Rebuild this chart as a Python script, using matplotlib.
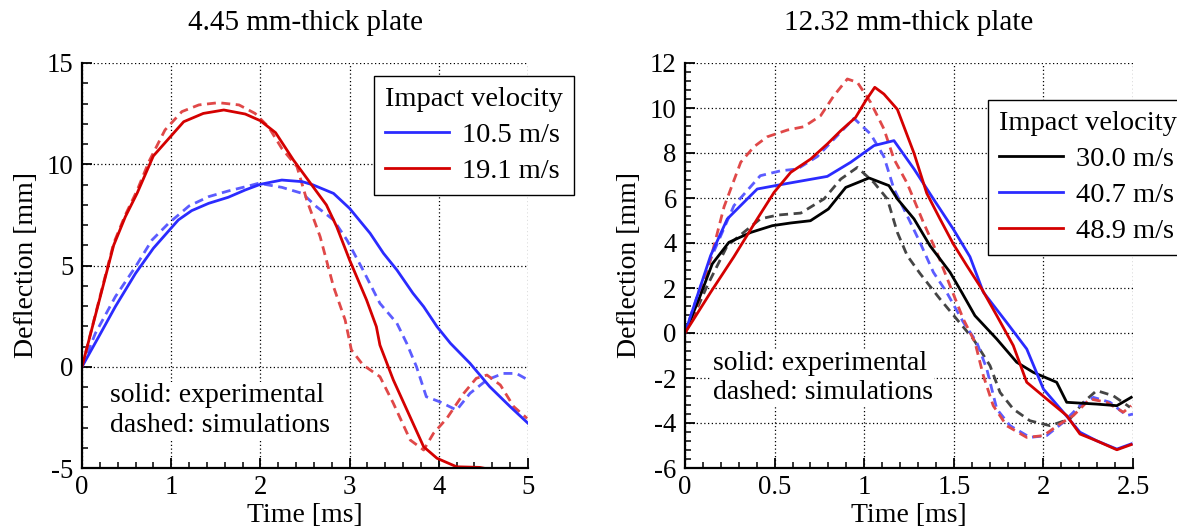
import numpy as np
import matplotlib.pyplot as plt
from matplotlib.ticker import MultipleLocator, FormatStrFormatter

plt.rcParams['font.family'] = ['Liberation Serif', 'DejaVu Serif']
plt.rcParams['axes.unicode_minus'] = False

# 4.45 mm plate
t_a_exp_lo = [0, 0.187, 0.374, 0.6, 0.8, 1.08, 1.23, 1.42, 1.64, 1.83, 2.0, 2.24, 2.47,
              2.59, 2.82, 3.0, 3.23, 3.38, 3.53, 3.71, 3.83, 3.98, 4.13, 4.35, 4.57, 4.8, 5.0]
d_a_exp_lo = [0, 1.48, 2.97, 4.61, 5.85, 7.25, 7.71, 8.07, 8.37, 8.73, 9.01, 9.22, 9.14,
              8.98, 8.56, 7.82, 6.59, 5.6, 4.78, 3.63, 2.97, 1.98, 1.16, 0.17, -0.98, -1.97, -2.79]
t_a_sim_lo = [0, 0.15, 0.374, 0.6, 0.785, 0.97, 1.2, 1.42, 1.64, 1.87, 1.98, 2.24, 2.47,
              2.63, 2.82, 2.97, 3.15, 3.34, 3.53, 3.64, 3.75, 3.86, 4.01, 4.2, 4.35, 4.54,
              4.72, 4.87, 5.0]
d_a_sim_lo = [0, 1.65, 3.46, 4.94, 6.26, 7.08, 7.94, 8.4, 8.68, 8.93, 9.06, 8.86, 8.56,
              7.9, 7.25, 6.26, 4.78, 3.13, 2.15, 1.16, 0, -1.48, -1.73, -2.14, -1.31, -0.65,
              -0.33, -0.33, -0.65]
t_a_exp_hi = [0, 0.355, 0.486, 0.617, 0.8, 1.14, 1.36, 1.59, 1.83, 2.0, 2.17, 2.37, 2.575,
              2.74, 2.855, 3.0, 3.19, 3.3, 3.34, 3.49, 3.66, 3.83, 3.98, 4.2, 4.46, 4.55]
d_a_exp_hi = [0, 6.0, 7.41, 8.56, 10.41, 12.1, 12.51, 12.68, 12.48, 12.15, 11.56, 10.21,
              8.98, 7.99, 6.92, 5.27, 3.3, 1.98, 1.07, -0.65, -2.3, -3.95, -4.52, -4.94,
              -4.97, -5.05]
t_a_sim_hi = [0, 0.355, 0.486, 0.617, 0.75, 0.93, 1.12, 1.31, 1.53, 1.76, 1.94, 2.09, 2.24,
              2.41, 2.52, 2.67, 2.82, 2.95, 3.02, 3.15, 3.34, 3.49, 3.68, 3.83, 3.94, 4.09,
              4.28, 4.42, 4.54, 4.69, 4.84, 4.99]
d_a_sim_hi = [0, 6.1, 7.5, 8.7, 10.13, 11.69, 12.6, 12.93, 13.04, 12.93, 12.51, 11.85,
              10.78, 9.88, 8.23, 6.42, 3.95, 2.31, 0.83, 0.09, -0.49, -1.8, -3.62, -4.11,
              -3.29, -2.55, -1.31, -0.57, -0.41, -0.9, -1.97, -2.55]

# 12.32 mm plate
t_b_exp_30 = [0, 0.078, 0.152, 0.245, 0.367, 0.487, 0.59, 0.7, 0.8, 0.897, 1.027, 1.138,
              1.185, 1.278, 1.367, 1.479, 1.544, 1.618, 1.74, 1.851, 1.944, 2.074, 2.13,
              2.297, 2.41, 2.49]
d_b_exp_30 = [0, 1.51, 3.07, 4.03, 4.47, 4.77, 4.89, 4.99, 5.51, 6.47, 6.89, 6.55, 5.96,
              5.07, 3.88, 2.7, 1.81, 0.77, -0.27, -1.3, -1.75, -2.19, -3.08, -3.16, -3.23,
              -2.86]
t_b_sim_30 = [0, 0.05, 0.124, 0.236, 0.42, 0.515, 0.646, 0.776, 0.869, 0.962, 1.055, 1.129,
              1.185, 1.24, 1.311, 1.423, 1.516, 1.609, 1.702, 1.758, 1.832, 1.925, 2.037,
              2.148, 2.223, 2.297, 2.39, 2.483]
d_b_sim_30 = [0, 0.77, 2.1, 3.88, 5.07, 5.24, 5.33, 5.96, 6.84, 7.36, 6.68, 5.96, 4.47,
              3.44, 2.65, 1.51, 0.62, -0.27, -1.45, -2.64, -3.38, -3.9, -4.12, -3.82, -3.08,
              -2.56, -2.79, -3.3]
t_b_exp_40 = [0, 0.143, 0.236, 0.403, 0.552, 0.794, 0.925, 1.055, 1.166, 1.278, 1.386,
              1.497, 1.59, 1.665, 1.795, 1.907, 2.0, 2.111, 2.204, 2.297, 2.41, 2.49]
d_b_exp_40 = [0, 3.44, 5.07, 6.4, 6.62, 6.96, 7.59, 8.33, 8.55, 7.29, 5.96, 4.62, 3.39,
              1.81, 0.47, -0.71, -2.49, -3.52, -4.41, -4.79, -5.16, -4.93]
t_b_sim_40 = [0, 0.069, 0.143, 0.273, 0.42, 0.534, 0.627, 0.738, 0.85, 0.943, 1.036, 1.11,
              1.166, 1.24, 1.311, 1.386, 1.46, 1.553, 1.628, 1.684, 1.74, 1.814, 1.925,
              2.018, 2.111, 2.204, 2.279, 2.372, 2.465, 2.5]
d_b_sim_40 = [0, 1.66, 3.29, 5.66, 6.99, 7.21, 7.29, 7.84, 8.77, 9.54, 8.84, 7.84, 6.4,
              5.21, 4.03, 2.7, 1.81, 0.48, -0.41, -1.6, -3.38, -4.12, -4.64, -4.56, -3.97,
              -3.23, -2.86, -3.08, -3.67, -3.6]
t_b_exp_49 = [0, 0.143, 0.273, 0.403, 0.497, 0.59, 0.701, 0.794, 0.869, 0.952, 1.008,
              1.059, 1.11, 1.185, 1.278, 1.349, 1.423, 1.497, 1.572, 1.656, 1.74, 1.832,
              1.907, 2.018, 2.13, 2.204, 2.297, 2.41, 2.49]
d_b_exp_49 = [0, 1.81, 3.39, 5.07, 6.25, 7.14, 7.73, 8.4, 8.99, 9.58, 10.32, 10.92, 10.62,
              9.94, 7.99, 6.21, 5.07, 3.96, 3.0, 1.96, 0.77, -0.56, -2.19, -2.93, -3.67,
              -4.49, -4.79, -5.19, -4.96]
t_b_sim_49 = [0, 0.069, 0.143, 0.218, 0.311, 0.385, 0.459, 0.571, 0.664, 0.757, 0.831,
              0.906, 0.962, 1.036, 1.11, 1.166, 1.24, 1.33, 1.405, 1.479, 1.553, 1.618,
              1.665, 1.72, 1.795, 1.907, 2.0, 2.093, 2.167, 2.26, 2.353, 2.446, 2.49]
d_b_sim_49 = [0, 1.21, 3.29, 5.61, 7.59, 8.28, 8.72, 9.02, 9.17, 9.66, 10.55, 11.29, 11.14,
              10.25, 9.07, 7.73, 6.65, 4.92, 3.59, 2.1, 0.62, -0.41, -1.9, -3.23, -4.12,
              -4.64, -4.56, -4.04, -3.67, -2.93, -3.08, -3.52, -3.23]

BLUE = '#2b2bff'
RED = '#d40000'
BLACK = '#000000'
BLUE_D = '#5c5cff'
RED_D = '#e04848'
BLACK_D = '#454545'
LW = 2.0
DASH = (3.2, 2.0)

fig = plt.figure(figsize=(11.77, 5.29), dpi=100)
ax1 = fig.add_axes([82 / 1177, 61 / 529, 446 / 1177, 405 / 529])
ax2 = fig.add_axes([685 / 1177, 61 / 529, 448 / 1177, 405 / 529])


def style(ax, xmaj, xmin, ymaj, ymin):
    ax.xaxis.set_major_locator(MultipleLocator(xmaj))
    ax.xaxis.set_minor_locator(MultipleLocator(xmin))
    ax.yaxis.set_major_locator(MultipleLocator(ymaj))
    ax.yaxis.set_minor_locator(MultipleLocator(ymin))
    ax.xaxis.set_major_formatter(FormatStrFormatter('%g'))
    ax.yaxis.set_major_formatter(FormatStrFormatter('%g'))
    ax.grid(True, which='major', color='black', linestyle=(0, (1, 2)), linewidth=0.9)
    ax.spines['top'].set_visible(False)
    ax.spines['right'].set_visible(False)
    ax.spines['left'].set_linewidth(1.6)
    ax.spines['bottom'].set_linewidth(1.6)
    ax.tick_params(which='major', direction='in', length=7, width=1.3, labelsize=19.3,
                   top=False, right=False)
    ax.tick_params(axis='x', which='major', pad=5)
    ax.tick_params(axis='y', which='major', pad=6)
    ax.tick_params(which='minor', direction='in', length=4, width=1.1, top=False, right=False)
    ax.set_xlabel('Time [ms]', fontsize=20, labelpad=2)
    ax.set_ylabel('Deflection [mm]', fontsize=20)
    ax.yaxis.set_label_coords(-0.096, 0.5)


# left panel
ax1.plot(t_a_sim_lo, d_a_sim_lo, color=BLUE_D, lw=LW, dashes=DASH)
ax1.plot(t_a_sim_hi, d_a_sim_hi, color=RED_D, lw=LW, dashes=DASH)
ax1.plot(t_a_exp_lo, d_a_exp_lo, color=BLUE, lw=LW, label='10.5 m/s')
ax1.plot(t_a_exp_hi, d_a_exp_hi, color=RED, lw=LW, label='19.1 m/s')
ax1.set_xlim(0, 5)
ax1.set_ylim(-5, 15)
style(ax1, 1, 0.2, 5, 1)

# right panel
ax2.plot(t_b_sim_30, d_b_sim_30, color=BLACK_D, lw=LW, dashes=DASH)
ax2.plot(t_b_sim_40, d_b_sim_40, color=BLUE_D, lw=LW, dashes=DASH)
ax2.plot(t_b_sim_49, d_b_sim_49, color=RED_D, lw=LW, dashes=DASH)
ax2.plot(t_b_exp_30, d_b_exp_30, color=BLACK, lw=LW, label='30.0 m/s')
ax2.plot(t_b_exp_40, d_b_exp_40, color=BLUE, lw=LW, label='40.7 m/s')
ax2.plot(t_b_exp_49, d_b_exp_49, color=RED, lw=LW, label='48.9 m/s')
ax2.set_xlim(0, 2.5)
ax2.set_ylim(-6, 12)
style(ax2, 0.5, 0.1, 2, 0.4)

fig.text(305 / 1177, 1 - 23 / 529, '4.45 mm-thick plate', fontsize=21, ha='center', va='center')
fig.text(909 / 1177, 1 - 23 / 529, '12.32 mm-thick plate', fontsize=21, ha='center', va='center')

for ax, anchor, ty in [(ax1, (374 / 1177, 1 - 76 / 529), 0.21),
                       (ax2, (988 / 1177, 1 - 100 / 529), 0.29)]:
    leg = ax.legend(title='Impact velocity', loc='upper left', bbox_to_anchor=anchor,
                    bbox_transform=fig.transFigure, borderaxespad=0, fontsize=20.5,
                    title_fontsize=20.5, fancybox=False, framealpha=1, edgecolor='black',
                    handlelength=2.25, handletextpad=0.45, labelspacing=0.36,
                    borderpad=0.38, alignment='left')
    leg.get_frame().set_linewidth(1.0)
    leg.set_clip_on(False)
    ax.text(0.062, ty, 'solid: experimental\ndashed: simulations', transform=ax.transAxes,
            fontsize=20, va='top', ha='left', linespacing=1.25,
            bbox=dict(facecolor='white', edgecolor='none', pad=1))

fig.savefig('out.png', dpi=100)
